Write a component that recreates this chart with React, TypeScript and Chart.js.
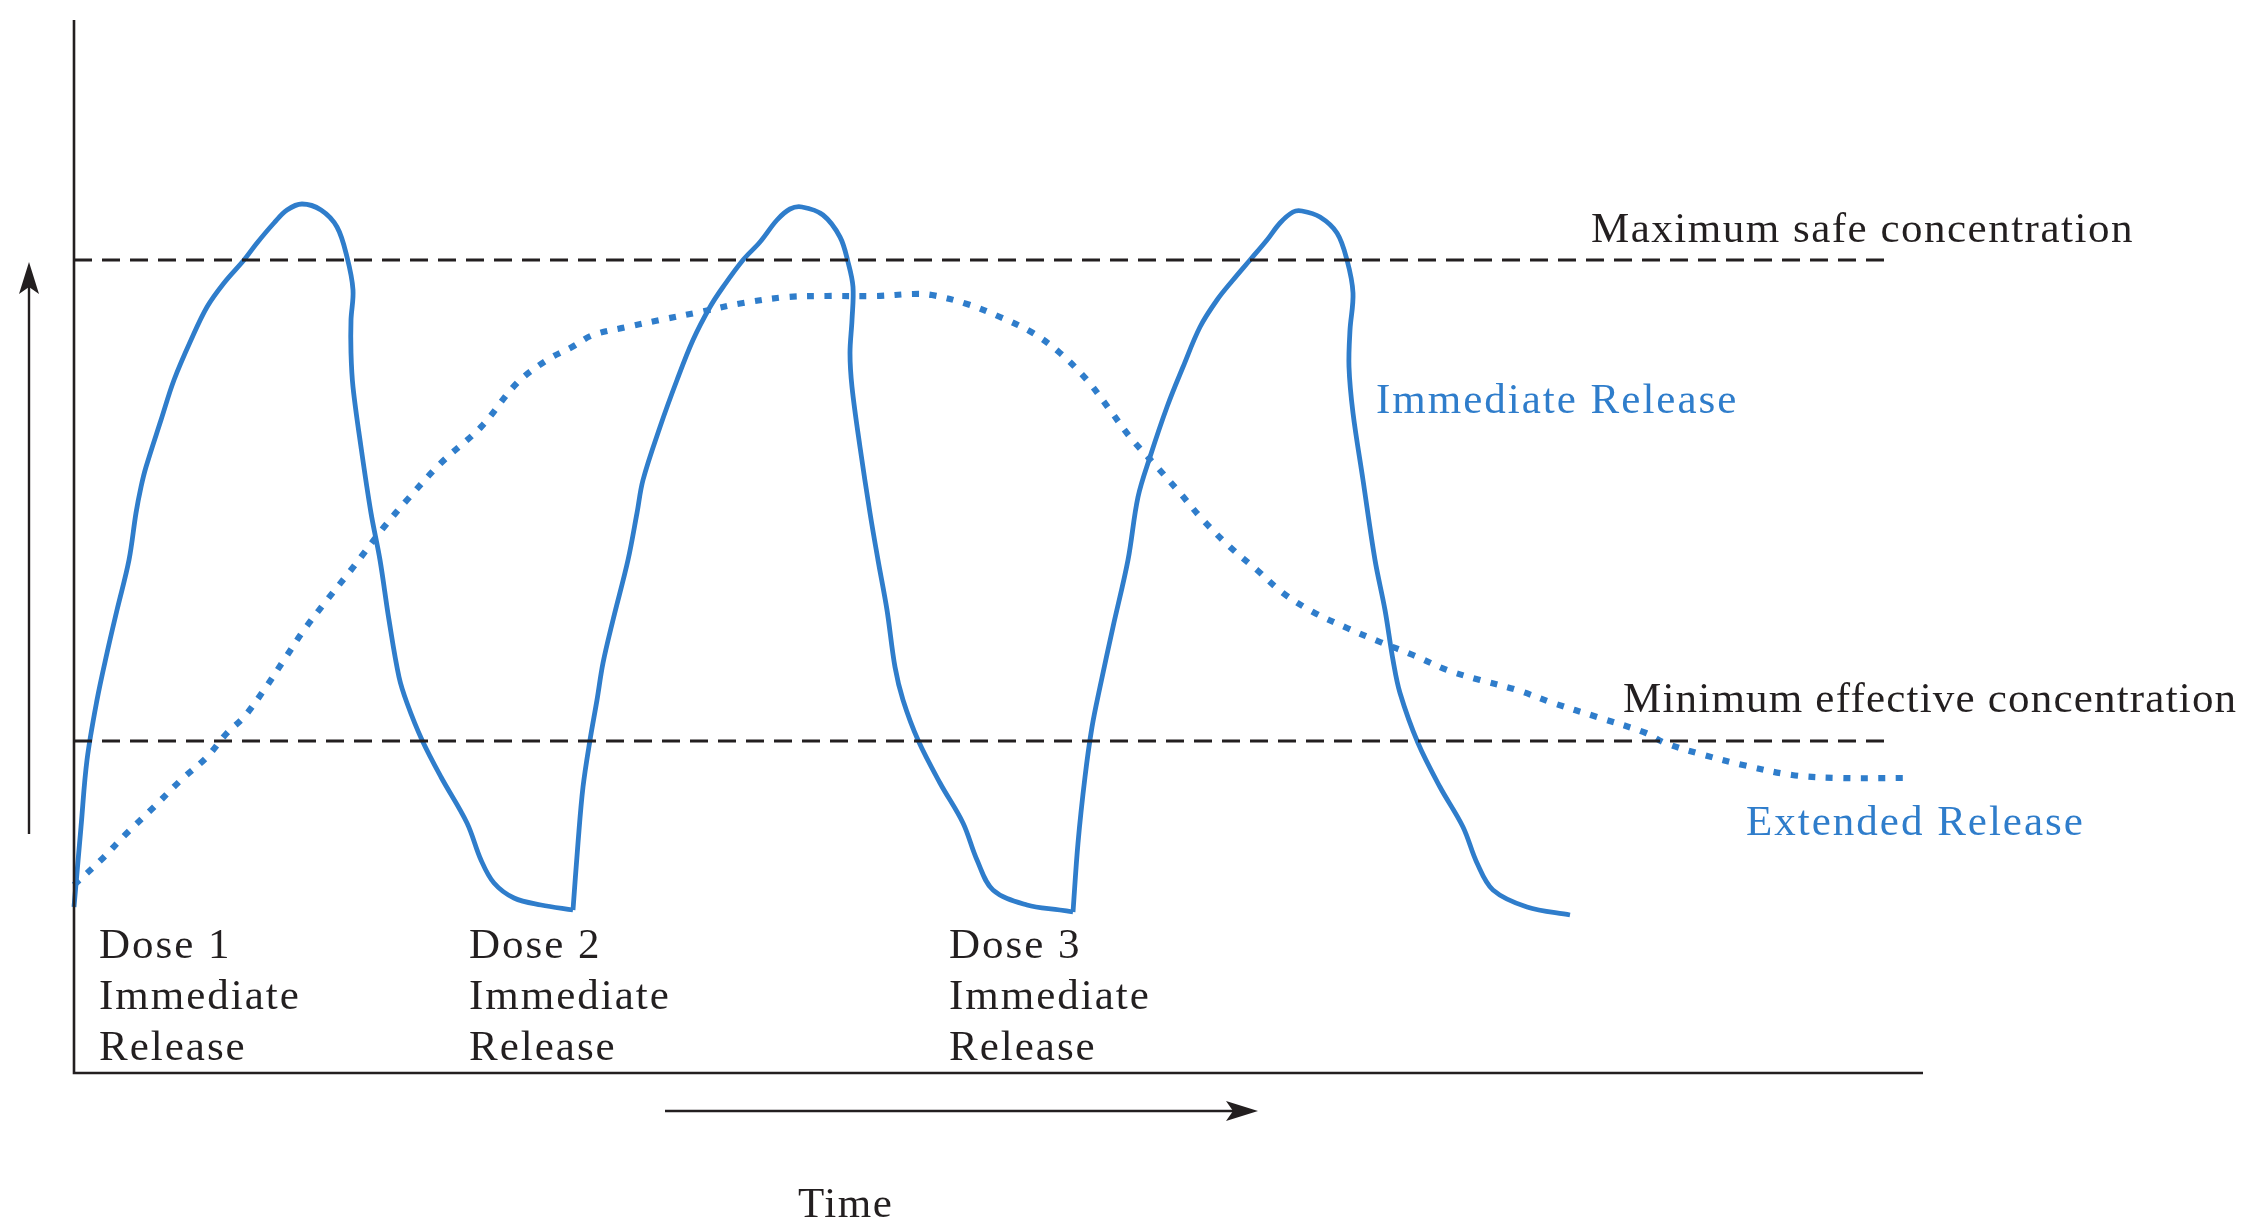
import React, { useEffect, useRef } from "react";
import { Chart, registerables } from "chart.js";

Chart.register(...registerables);

// Time (h) and concentration (arbitrary units)
const dose1Time = [0, 0.14, 0.26, 0.46, 0.66, 0.86, 1.1, 1.24, 1.34, 1.44, 1.74, 2.0, 2.34, 2.66, 3.0, 3.4, 3.66, 4.0, 4.26, 4.56, 4.94, 5.26, 5.46, 5.58, 5.54, 5.54, 5.58, 5.74, 5.94, 6.12, 6.3, 6.5, 6.66, 6.96, 7.34, 7.86, 8.14, 8.4, 8.8, 9.34, 9.98];
const dose1Conc = [16.6, 24.6, 31.3, 37.3, 42.0, 46.3, 51.3, 56.0, 58.6, 60.6, 65.3, 69.3, 73.3, 76.6, 79.0, 81.3, 83.0, 85.0, 86.3, 86.9, 86.3, 84.6, 81.6, 78.3, 75.3, 72.0, 68.6, 62.6, 56.0, 51.3, 45.3, 39.6, 37.0, 33.3, 29.6, 25.0, 21.3, 19.0, 17.5, 16.8, 16.3];

const dose2Time = [9.98, 10.08, 10.18, 10.32, 10.46, 10.58, 10.78, 11.08, 11.26, 11.38, 11.72, 12.06, 12.38, 12.72, 12.98, 13.38, 13.72, 14.06, 14.32, 14.56, 14.98, 15.32, 15.48, 15.58, 15.56, 15.52, 15.56, 15.72, 15.92, 16.08, 16.26, 16.42, 16.58, 16.88, 17.32, 17.78, 18.06, 18.38, 19.06, 19.72, 19.98];
const dose2Conc = [16.3, 23.0, 28.6, 33.3, 37.3, 41.0, 45.3, 51.3, 56.0, 59.3, 64.6, 69.3, 73.3, 76.6, 78.6, 81.3, 83.1, 85.3, 86.4, 86.6, 85.8, 83.6, 81.1, 78.6, 75.3, 72.0, 68.6, 62.6, 56.0, 51.3, 46.3, 40.6, 37.3, 33.3, 29.0, 25.0, 21.3, 18.3, 16.8, 16.3, 16.1];

const dose3Time = [19.98, 20.08, 20.22, 20.36, 20.52, 20.78, 21.08, 21.28, 21.52, 21.86, 22.18, 22.52, 22.86, 23.18, 23.52, 23.86, 24.12, 24.38, 24.56, 24.92, 25.26, 25.46, 25.58, 25.52, 25.5, 25.58, 25.78, 26.02, 26.22, 26.38, 26.52, 26.88, 27.32, 27.78, 28.06, 28.38, 29.06, 29.92];
const dose3Conc = [16.1, 23.0, 29.6, 34.6, 38.6, 44.6, 51.3, 57.6, 61.6, 66.6, 70.6, 74.6, 77.3, 79.3, 81.3, 83.3, 85.0, 86.1, 86.2, 85.6, 84.0, 81.3, 78.0, 74.3, 70.6, 66.0, 59.3, 51.3, 46.3, 41.3, 38.0, 33.0, 28.6, 24.6, 21.0, 18.3, 16.6, 15.8];

const extendedTime = [0, 0.54, 1.06, 1.6, 2.14, 2.66, 3.06, 3.4, 3.8, 4.2, 4.6, 5.06, 5.54, 5.74, 6.2, 6.66, 7.34, 8.14, 8.86, 9.46, 9.96, 10.38, 11.06, 11.72, 12.52, 13.38, 14.26, 15.06, 16.06, 16.78, 17.16, 17.86, 18.52, 19.18, 19.72, 20.26, 20.72, 21.12, 21.66, 22.12, 22.58, 23.12, 23.66, 24.18, 24.78, 25.46, 26.12, 26.78, 27.46, 28.12, 28.86, 29.58, 30.46, 31.44, 31.82, 32.6, 33.38, 34.36, 35.32, 36.58];
const extendedConc = [18.8, 21.3, 24.0, 26.6, 29.3, 31.6, 34.0, 35.6, 38.3, 41.3, 44.3, 47.3, 50.3, 51.6, 54.6, 57.3, 61.0, 64.6, 69.0, 71.3, 72.6, 73.8, 74.6, 75.3, 76.1, 77.0, 77.6, 77.7, 77.7, 77.9, 77.8, 76.9, 75.6, 74.0, 72.0, 69.3, 66.3, 63.6, 60.6, 58.0, 55.3, 52.6, 50.3, 48.0, 46.1, 44.5, 43.1, 41.8, 40.3, 39.3, 38.3, 37.0, 35.6, 34.0, 33.0, 31.8, 30.8, 29.8, 29.5, 29.5];

const maxSafeConcentration = 81.3;
const minEffectiveConcentration = 33.2;
const thresholdTimes = [0, 36.2];

const doseLabels = [
  ["Dose 1", "Immediate", "Release"],
  ["Dose 2", "Immediate", "Release"],
  ["Dose 3", "Immediate", "Release"],
];
const maxSafeLabel = "Maximum safe concentration";
const minEffectiveLabel = "Minimum effective concentration";
const immediateLabel = "Immediate Release";
const extendedLabel = "Extended Release";
const timeLabel = "Time";

const BLUE = "#2f7dcb";
const INK = "#231f20";

const toPoints = (xs: number[], ys: number[]) => xs.map((x, i) => ({ x, y: ys[i] }));

function arrowHead(ctx: CanvasRenderingContext2D, tipX: number, tipY: number, dirX: number, dirY: number) {
  const L = 32;
  const W = 10;
  const px = -dirY;
  const py = dirX;
  ctx.beginPath();
  ctx.moveTo(tipX, tipY);
  ctx.lineTo(tipX - dirX * L + px * W, tipY - dirY * L + py * W);
  ctx.lineTo(tipX - dirX * L * 0.78, tipY - dirY * L * 0.78);
  ctx.lineTo(tipX - dirX * L - px * W, tipY - dirY * L - py * W);
  ctx.closePath();
  ctx.fill();
}

const decorPlugin = {
  id: "decor",
  afterDraw(chart: any) {
    const ctx: CanvasRenderingContext2D = chart.ctx;
    const { left, right, top, bottom } = chart.chartArea;
    ctx.save();
    // axes
    ctx.strokeStyle = INK;
    ctx.fillStyle = INK;
    ctx.lineWidth = 2.6;
    ctx.setLineDash([]);
    ctx.beginPath();
    ctx.moveTo(left, top);
    ctx.lineTo(left, bottom);
    ctx.lineTo(right, bottom);
    ctx.stroke();

    // up arrow (concentration)
    ctx.lineWidth = 2.4;
    ctx.beginPath();
    ctx.moveTo(29, 834);
    ctx.lineTo(29, 280);
    ctx.stroke();
    arrowHead(ctx, 29, 262, 0, -1);

    // right arrow (time)
    ctx.beginPath();
    ctx.moveTo(665, 1111);
    ctx.lineTo(1240, 1111);
    ctx.stroke();
    arrowHead(ctx, 1258, 1111, 1, 0);

    // texts
    ctx.font = '43px "Liberation Serif", "Times New Roman", serif';
    (ctx as any).letterSpacing = "1.5px";
    ctx.textBaseline = "alphabetic";
    ctx.textAlign = "left";

    ctx.fillStyle = INK;
    ctx.fillText(maxSafeLabel, 1591, 242);
    (ctx as any).letterSpacing = "1.2px";
    ctx.fillText(minEffectiveLabel, 1623, 712);
    (ctx as any).letterSpacing = "1.5px";
    ctx.fillText(timeLabel, 798, 1217);

    const labelX = [99, 469, 949];
    const baselines = [958, 1009, 1060];
    (ctx as any).letterSpacing = "2px";
    doseLabels.forEach((lines, i) => {
      lines.forEach((t, j) => ctx.fillText(t, labelX[i], baselines[j]));
    });

    ctx.fillStyle = BLUE;
    ctx.fillText(immediateLabel, 1376, 413);
    ctx.fillText(extendedLabel, 1746, 835);
    ctx.restore();
  },
};

export default function App() {
  const canvasRef = useRef<HTMLCanvasElement | null>(null);

  useEffect(() => {
    if (!canvasRef.current) return;
    const irStyle = {
      borderColor: BLUE,
      borderWidth: 4.8,
      pointRadius: 0,
      tension: 0.35,
      fill: false,
    };
    const thresholdStyle = {
      borderColor: INK,
      borderWidth: 2.8,
      borderDash: [18, 10],
      pointRadius: 0,
      tension: 0,
      fill: false,
    };
    const chart = new Chart(canvasRef.current, {
      type: "line",
      data: {
        datasets: [
          { label: "Maximum safe concentration", data: thresholdTimes.map((x) => ({ x, y: maxSafeConcentration })), ...thresholdStyle },
          { label: "Minimum effective concentration", data: thresholdTimes.map((x) => ({ x, y: minEffectiveConcentration })), ...thresholdStyle },
          {
            label: "Extended Release",
            data: toPoints(extendedTime, extendedConc),
            borderColor: BLUE,
            borderWidth: 6.2,
            borderDash: [7, 10.5],
            borderCapStyle: "butt",
            pointRadius: 0,
            tension: 0.35,
            fill: false,
          },
          { label: "Immediate Release dose 1", data: toPoints(dose1Time, dose1Conc), ...irStyle },
          { label: "Immediate Release dose 2", data: toPoints(dose2Time, dose2Conc), ...irStyle },
          { label: "Immediate Release dose 3", data: toPoints(dose3Time, dose3Conc), ...irStyle },
        ],
      },
      options: {
        responsive: false,
        animation: false,
        devicePixelRatio: 1,
        layout: { padding: { left: 74, top: 20, right: 339, bottom: 147 } },
        scales: {
          x: { type: "linear", min: 0, max: 36.98, display: false },
          y: { type: "linear", min: 0, max: 105.3, display: false },
        },
        plugins: {
          legend: { display: false },
          tooltip: { enabled: false },
          title: { display: false },
        },
        elements: { line: { capBezierPoints: true } },
        clip: false as any,
      },
      plugins: [decorPlugin],
    } as any);
    return () => chart.destroy();
  }, []);

  return (
    <div style={{ position: "absolute", left: 0, top: 0, width: 2262, height: 1220, background: "#ffffff" }}>
      <canvas ref={canvasRef} width={2262} height={1220} style={{ display: "block", width: 2262, height: 1220 }} />
    </div>
  );
}
